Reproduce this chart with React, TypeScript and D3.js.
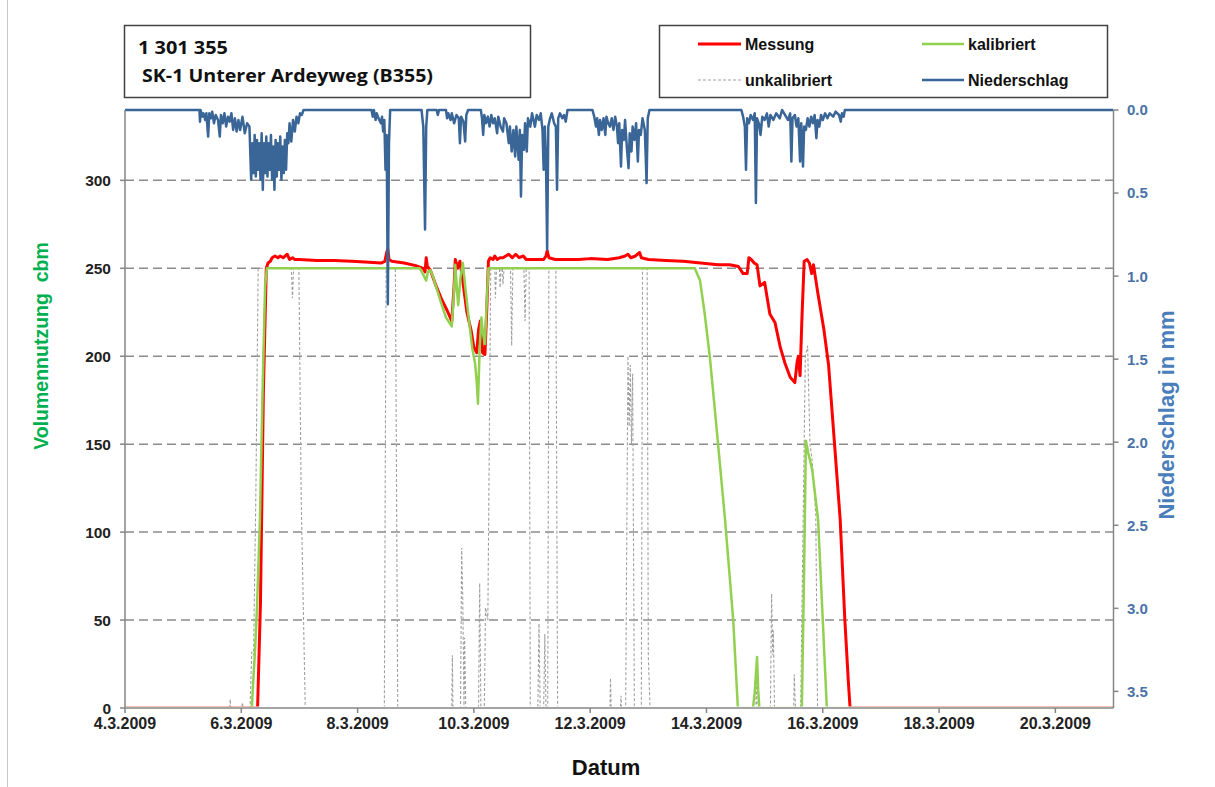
import React from "react";
import * as d3 from "d3";

// Time is given as day of March 2009 (decimal days).
type Pt = [number, number];

const xTickDays = [4, 6, 8, 10, 12, 14, 16, 18, 20];
const xTickLabels = ["4.3.2009", "6.3.2009", "8.3.2009", "10.3.2009", "12.3.2009", "14.3.2009", "16.3.2009", "18.3.2009", "20.3.2009"];
const leftTicks = [0, 50, 100, 150, 200, 250, 300];
const rightTicks = [0, 0.5, 1.0, 1.5, 2.0, 2.5, 3.0, 3.5];

// Messung (cbm)
const messung: Pt[] = [
  [4.0, 0], [6.28, 0], [6.33, 60], [6.38, 180], [6.43, 250], [6.46, 253], [6.5, 254], [6.53, 256], [6.58, 257],
  [6.63, 256], [6.67, 257], [6.72, 256], [6.79, 258], [6.83, 255], [6.88, 256], [6.92, 255], [7.0, 255],
  [7.3, 254.5], [7.6, 254.5], [7.9, 254], [8.2, 253.5], [8.4, 253], [8.47, 254], [8.5, 259], [8.52, 261],
  [8.54, 255], [8.59, 254], [8.8, 253], [9.0, 251.5], [9.13, 250], [9.16, 248], [9.18, 256], [9.2, 251],
  [9.25, 249], [9.35, 240], [9.45, 232], [9.54, 226], [9.62, 220], [9.66, 240], [9.68, 255], [9.72, 250],
  [9.76, 254], [9.8, 245], [9.88, 225], [9.95, 215], [10.0, 205], [10.05, 202], [10.08, 215], [10.11, 220],
  [10.15, 202], [10.19, 201], [10.22, 225], [10.25, 254], [10.28, 256], [10.33, 255], [10.36, 257], [10.4, 255],
  [10.45, 256], [10.5, 256], [10.6, 258], [10.66, 256], [10.72, 258], [10.78, 256], [10.85, 257], [10.9, 255],
  [11.0, 255], [11.2, 255], [11.24, 257], [11.26, 260], [11.29, 256], [11.4, 255], [11.6, 255], [11.8, 255],
  [12.0, 255.5], [12.3, 255], [12.5, 256], [12.6, 257], [12.65, 258], [12.7, 256], [12.78, 257], [12.85, 259],
  [12.88, 256], [13.0, 255], [13.3, 254.5], [13.6, 254], [13.9, 253], [14.2, 252], [14.4, 252], [14.55, 251],
  [14.63, 247], [14.7, 247], [14.73, 256], [14.77, 255], [14.82, 253], [14.87, 252], [14.92, 240], [15.0, 242],
  [15.09, 224], [15.18, 219], [15.27, 205], [15.35, 196], [15.44, 188], [15.52, 185], [15.56, 197], [15.58, 200],
  [15.61, 189], [15.64, 220], [15.68, 254], [15.73, 255], [15.77, 253], [15.81, 247], [15.84, 252], [15.92, 235],
  [16.02, 215], [16.1, 195], [16.18, 160], [16.3, 107], [16.38, 50], [16.44, 15], [16.47, 0], [21.0, 0],
];

// kalibriert (cbm)
const kalibriert: Pt[] = [
  [4.0, 0], [6.18, 0], [6.24, 35], [6.27, 57], [6.32, 107], [6.37, 186], [6.41, 240], [6.44, 250], [9.07, 250],
  [9.12, 247], [9.18, 243], [9.21, 248], [9.25, 249], [9.3, 245], [9.42, 232], [9.52, 222], [9.62, 217],
  [9.66, 238], [9.68, 252], [9.71, 238], [9.73, 229], [9.77, 245], [9.81, 253], [9.85, 240], [9.9, 225],
  [9.97, 205], [10.02, 196], [10.05, 185], [10.07, 173], [10.1, 205], [10.13, 222], [10.16, 212], [10.19, 207],
  [10.22, 230], [10.25, 250], [13.8, 250], [13.85, 246], [13.89, 243], [13.97, 224], [14.06, 199], [14.16, 164],
  [14.32, 107], [14.46, 50], [14.54, 0], [14.8, 0], [14.83, 9], [14.87, 29], [14.89, 10], [14.91, 0],
  [15.64, 0], [15.68, 80], [15.71, 152], [15.75, 145], [15.78, 141], [15.82, 135], [15.92, 107], [16.07, 0],
  [21.0, 0],
];

// unkalibriert (cbm)
const unkalibriert: Pt[] = [
  [4.0, 0], [5.8, 0], [5.81, 5], [5.82, 0], [6.01, 0], [6.02, 3], [6.03, 0], [6.15, 0], [6.18, 32], [6.21, 30],
  [6.25, 120], [6.29, 250], [6.86, 250], [6.88, 233], [6.9, 250], [6.99, 250], [7.03, 120], [7.1, 0],
  [8.46, 0], [8.49, 250], [8.65, 250], [8.69, 0], [9.62, 0], [9.63, 30], [9.64, 0], [9.77, 0], [9.79, 91],
  [9.81, 60], [9.83, 0], [9.84, 40], [9.86, 0], [10.08, 0], [10.1, 71], [10.12, 0], [10.18, 0], [10.2, 57],
  [10.24, 50], [10.29, 250], [10.36, 250], [10.37, 233], [10.39, 250], [10.44, 250], [10.45, 239], [10.47, 250],
  [10.49, 250], [10.5, 241], [10.52, 250], [10.63, 250], [10.65, 206], [10.67, 250], [10.86, 250], [10.88, 220],
  [10.9, 250], [10.95, 250], [10.97, 0], [11.1, 0], [11.12, 48], [11.14, 0], [11.2, 0], [11.22, 42], [11.24, 0],
  [11.27, 0], [11.29, 250], [11.41, 250], [11.44, 0], [12.34, 0], [12.35, 17], [12.36, 0], [12.52, 0],
  [12.53, 7], [12.54, 0], [12.61, 0], [12.65, 200], [12.67, 160], [12.69, 195], [12.71, 150], [12.73, 190],
  [12.76, 0], [12.88, 0], [12.9, 250], [12.98, 250], [13.0, 29], [13.03, 0], [14.85, 0], [14.86, 20],
  [14.87, 0], [15.1, 0], [15.12, 65], [15.14, 30], [15.15, 44], [15.17, 0], [15.5, 0], [15.51, 19], [15.53, 0],
  [15.62, 0], [15.7, 200], [15.74, 206], [15.78, 150], [15.82, 140], [15.88, 110], [15.91, 0], [21.0, 0],
];

// Niederschlag (mm)
const niederschlag: Pt[] = [
  [4.0, 0], [5.28, 0], [5.29, 0.07], [5.3, 0], [5.33, 0.04], [5.35, 0.02], [5.38, 0.06], [5.4, 0.02],
  [5.43, 0.16], [5.45, 0.02], [5.48, 0.05], [5.5, 0.01], [5.53, 0.08], [5.56, 0.03], [5.6, 0.06], [5.63, 0.16],
  [5.65, 0.03], [5.68, 0.08], [5.71, 0.02], [5.74, 0.1], [5.77, 0.04], [5.8, 0.07], [5.83, 0.02], [5.86, 0.12],
  [5.89, 0.05], [5.92, 0.13], [5.95, 0.06], [5.98, 0.12], [6.02, 0.04], [6.06, 0.14], [6.1, 0.08], [6.14, 0.1],
  [6.17, 0.42], [6.19, 0.2], [6.21, 0.38], [6.23, 0.15], [6.25, 0.4], [6.27, 0.18], [6.29, 0.36], [6.31, 0.2],
  [6.33, 0.42], [6.35, 0.14], [6.37, 0.48], [6.39, 0.2], [6.41, 0.38], [6.43, 0.16], [6.45, 0.4], [6.47, 0.2],
  [6.49, 0.36], [6.51, 0.15], [6.53, 0.42], [6.55, 0.22], [6.57, 0.48], [6.59, 0.18], [6.61, 0.4], [6.63, 0.2],
  [6.65, 0.36], [6.67, 0.16], [6.69, 0.42], [6.71, 0.22], [6.73, 0.38], [6.75, 0.18], [6.77, 0.36], [6.79, 0.14],
  [6.81, 0.2], [6.83, 0.08], [6.86, 0.19], [6.89, 0.06], [6.92, 0.13], [6.95, 0.04], [6.98, 0.08], [7.01, 0.02],
  [7.04, 0.03], [7.07, 0], [8.24, 0], [8.26, 0.04], [8.28, 0], [8.31, 0.06], [8.33, 0.02], [8.36, 0.05],
  [8.4, 0.08], [8.42, 0.04], [8.44, 0.13], [8.46, 0.06], [8.48, 0.36], [8.5, 0.15], [8.52, 1.17], [8.54, 0.2],
  [8.56, 0], [9.1, 0], [9.13, 0.1], [9.16, 0.72], [9.18, 0.1], [9.2, 0], [9.36, 0], [9.38, 0.03], [9.4, 0],
  [9.52, 0], [9.54, 0.05], [9.56, 0.02], [9.6, 0.06], [9.62, 0.02], [9.66, 0.08], [9.7, 0.03], [9.74, 0.05],
  [9.76, 0.2], [9.78, 0.04], [9.82, 0.07], [9.85, 0.19], [9.87, 0.03], [9.9, 0], [10.12, 0], [10.14, 0.05],
  [10.16, 0.15], [10.18, 0.03], [10.21, 0.08], [10.24, 0.04], [10.27, 0.1], [10.3, 0.03], [10.33, 0.08],
  [10.36, 0.05], [10.4, 0.14], [10.42, 0.04], [10.46, 0.1], [10.5, 0.13], [10.52, 0.05], [10.56, 0.08],
  [10.6, 0.2], [10.62, 0.1], [10.65, 0.25], [10.68, 0.12], [10.71, 0.28], [10.73, 0.1], [10.77, 0.3],
  [10.79, 0.12], [10.81, 0.52], [10.83, 0.15], [10.86, 0.24], [10.88, 0.08], [10.91, 0.25], [10.93, 0.05],
  [10.97, 0.1], [11.0, 0.02], [11.05, 0.1], [11.08, 0.03], [11.12, 0.06], [11.15, 0.02], [11.18, 0.12],
  [11.2, 0.36], [11.22, 0.1], [11.24, 0.3], [11.26, 0.84], [11.28, 0.1], [11.31, 0.05], [11.34, 0.02],
  [11.38, 0.08], [11.41, 0.1], [11.43, 0.48], [11.45, 0.05], [11.48, 0.02], [11.52, 0.05], [11.55, 0.03],
  [11.58, 0.07], [11.61, 0], [12.04, 0], [12.07, 0.04], [12.1, 0.1], [12.12, 0.05], [12.15, 0.15], [12.17, 0.06],
  [12.2, 0.12], [12.23, 0.05], [12.26, 0.15], [12.28, 0.04], [12.31, 0.08], [12.34, 0.1], [12.37, 0.05],
  [12.4, 0.12], [12.43, 0.04], [12.46, 0.1], [12.48, 0.2], [12.5, 0.08], [12.53, 0.34], [12.55, 0.12],
  [12.58, 0.18], [12.6, 0.06], [12.63, 0.22], [12.66, 0.35], [12.68, 0.14], [12.71, 0.25], [12.73, 0.1],
  [12.76, 0.18], [12.79, 0.08], [12.82, 0.31], [12.84, 0.12], [12.87, 0.15], [12.9, 0.05], [12.94, 0.12],
  [12.97, 0.44], [12.99, 0.05], [13.02, 0], [14.6, 0], [14.63, 0.04], [14.66, 0.1], [14.68, 0.36], [14.7, 0.05],
  [14.73, 0.08], [14.76, 0.03], [14.8, 0.06], [14.83, 0.02], [14.85, 0.56], [14.87, 0.05], [14.9, 0.08],
  [14.93, 0.15], [14.96, 0.04], [15.0, 0.06], [15.04, 0.02], [15.07, 0.1], [15.1, 0.03], [15.15, 0.06],
  [15.2, 0.02], [15.26, 0.05], [15.3, 0], [15.35, 0.03], [15.4, 0.06], [15.44, 0.02], [15.46, 0.31],
  [15.48, 0.05], [15.52, 0.03], [15.55, 0.1], [15.58, 0.05], [15.61, 0.31], [15.63, 0.08], [15.66, 0.34],
  [15.68, 0.1], [15.71, 0.12], [15.74, 0.05], [15.77, 0.1], [15.8, 0.04], [15.83, 0.08], [15.86, 0.03],
  [15.89, 0.17], [15.91, 0.06], [15.94, 0.1], [15.97, 0.03], [16.0, 0.06], [16.04, 0.02], [16.08, 0.05],
  [16.12, 0.02], [16.18, 0.04], [16.22, 0.01], [16.28, 0.03], [16.31, 0.07], [16.33, 0.02], [16.36, 0.04],
  [16.38, 0], [21.0, 0],
];

const FONT = "'Liberation Sans', Arial, sans-serif";
const TITLE_FONT = "'Open Sans', Lato, sans-serif";
const RED = "#FF0000";
const GREEN = "#92D050";
const GRAY = "#A0A0A0";
const BLUE = "#3A6597";
const AXIS = "#868686";

export default function App() {
  const W = 1215;
  const H = 787;
  const left = 125;
  const right = 1113.5;
  const top = 110;
  const bottom = 708;

  const x = d3.scaleLinear().domain([4, 21]).range([left, right]);
  const yL = d3.scaleLinear().domain([0, 340]).range([bottom, top]);
  const yR = d3.scaleLinear().domain([0, 3.6]).range([top, bottom]);

  const lineL = d3.line<Pt>().x((d) => x(d[0])).y((d) => yL(d[1]));
  const lineR = d3.line<Pt>().x((d) => x(d[0])).y((d) => yR(d[1]));

  return (
    <svg
      width={W}
      height={H}
      style={{ position: "absolute", left: 0, top: 0, background: "#fff" }}
      fontFamily={FONT}
    >
      <defs>
        <clipPath id="plotClip">
          <rect x={left} y={top - 4} width={right - left} height={bottom - 1.6 - (top - 4)} />
        </clipPath>
      </defs>
      <rect x={0} y={0} width={W} height={H} fill="#fff" />
      <line x1={7.5} x2={7.5} y1={0} y2={H} stroke="#c8c8c8" strokeWidth={1} />

      {/* title box */}
      <rect x={124.5} y={25.5} width={406} height={72} fill="#fff" stroke="#404040" strokeWidth={1.5} />
      <text x={138} y={54} fontFamily={TITLE_FONT} fontWeight="bold" fontSize={17.5} fill="#111"
        textLength={90} lengthAdjust="spacingAndGlyphs">
        1 301 355
      </text>
      <text x={142} y={82} fontFamily={TITLE_FONT} fontWeight="bold" fontSize={17.5} fill="#111"
        textLength={291} lengthAdjust="spacingAndGlyphs">
        SK-1 Unterer Ardeyweg (B355)
      </text>

      {/* legend box */}
      <rect x={659.5} y={25.5} width={448} height={72} fill="#fff" stroke="#404040" strokeWidth={1.5} />
      <line x1={698} x2={741} y1={44} y2={44} stroke={RED} strokeWidth={3} />
      <text x={745} y={49.5} fontWeight="bold" fontSize={16} fill="#111">Messung</text>
      <line x1={922} x2={964} y1={44} y2={44} stroke={GREEN} strokeWidth={2.5} />
      <text x={968} y={49.5} fontWeight="bold" fontSize={16} fill="#111">kalibriert</text>
      <line x1={698} x2={741} y1={80} y2={80} stroke={GRAY} strokeWidth={1} strokeDasharray="3,2" />
      <text x={745} y={85.5} fontWeight="bold" fontSize={16} fill="#111">unkalibriert</text>
      <line x1={922} x2={964} y1={80} y2={80} stroke={BLUE} strokeWidth={2.5} />
      <text x={968} y={85.5} fontWeight="bold" fontSize={16} fill="#111">Niederschlag</text>

      {/* horizontal gridlines */}
      {leftTicks.filter((t) => t > 0).map((t) => (
        <line
          key={`g${t}`}
          x1={left}
          x2={right}
          y1={yL(t)}
          y2={yL(t)}
          stroke="#8c8c8c"
          strokeWidth={1.5}
          strokeDasharray="9,5"
        />
      ))}

      {/* series */}
      <g clipPath="url(#plotClip)">
        <path d={lineL(unkalibriert) || ""} fill="none" stroke={GRAY} strokeWidth={1.1} strokeDasharray="3,2" />
        <path d={lineL(messung) || ""} fill="none" stroke={RED} strokeWidth={3} strokeLinejoin="round" />
        <path d={lineL(kalibriert) || ""} fill="none" stroke={GREEN} strokeWidth={2.5} strokeLinejoin="round" />
        <path d={lineR(niederschlag) || ""} fill="none" stroke={BLUE} strokeWidth={2.5} strokeLinejoin="round" />
      </g>

      {/* left axis */}
      <line x1={left} x2={left} y1={top} y2={bottom} stroke={AXIS} strokeWidth={1.5} />
      {leftTicks.map((t) => (
        <g key={`l${t}`}>
          <line x1={left - 5} x2={left} y1={yL(t)} y2={yL(t)} stroke={AXIS} strokeWidth={1.5} />
          <text x={111} y={yL(t)} dy="0.36em" textAnchor="end" fontWeight="bold" fontSize={15.5} fill="#222">
            {t}
          </text>
        </g>
      ))}

      {/* right axis */}
      <line x1={right} x2={right} y1={top} y2={bottom} stroke={AXIS} strokeWidth={1.5} />
      {rightTicks.map((t) => (
        <g key={`r${t}`}>
          <line x1={right} x2={right + 5} y1={yR(t)} y2={yR(t)} stroke={AXIS} strokeWidth={1.5} />
          <text x={1127} y={yR(t)} dy="0.36em" fontWeight="bold" fontSize={15} fill="#4A72A8">
            {t.toFixed(1)}
          </text>
        </g>
      ))}

      {/* x axis */}
      <line x1={left} x2={right} y1={bottom} y2={bottom} stroke={AXIS} strokeWidth={1.5} />
      {xTickDays.map((d, i) => (
        <g key={`x${d}`}>
          <line x1={x(d)} x2={x(d)} y1={bottom} y2={bottom + 5} stroke={AXIS} strokeWidth={1.5} />
          <text x={x(d)} y={729} textAnchor="middle" fontWeight="bold" fontSize={16} fill="#222">
            {xTickLabels[i]}
          </text>
        </g>
      ))}

      {/* axis titles */}
      <text
        transform={`translate(48,346) rotate(-90)`}
        textAnchor="middle"
        fontWeight="bold"
        fontSize={19.5}
        fill="#00B050"
        style={{ whiteSpace: "pre" }}
      >
        {"Volumennutzung  cbm"}
      </text>
      <text
        transform={`translate(1174,415) rotate(-90)`}
        textAnchor="middle"
        fontWeight="bold"
        fontSize={22}
        fill="#4A7EBB"
      >
        Niederschlag in mm
      </text>
      <text x={606} y={775} textAnchor="middle" fontWeight="bold" fontSize={22} fill="#111">
        Datum
      </text>
    </svg>
  );
}
